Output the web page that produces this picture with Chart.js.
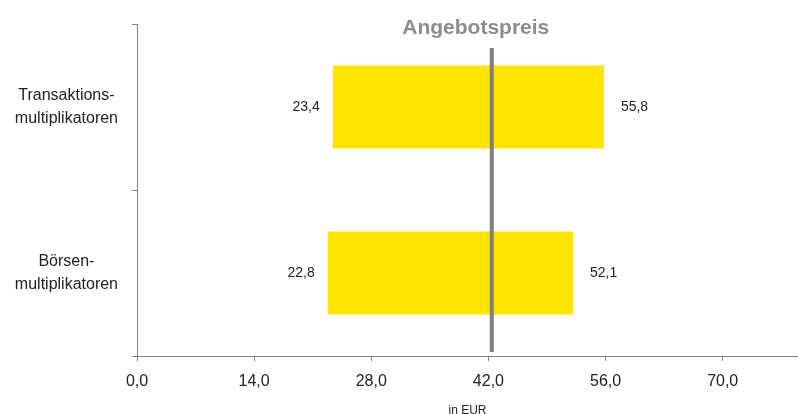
<!DOCTYPE html>
<html>
<head>
<meta charset="utf-8">
<script src="https://cdn.jsdelivr.net/npm/chart.js@4/dist/chart.umd.min.js"></script>
<style>
  html, body { margin:0; padding:0; background:#fff; }
  #wrap { width:798px; height:414px; position:relative; }
</style>
</head>
<body>
<div id="wrap"><canvas id="c"></canvas></div>
<script>
/* Bewertungsbandbreiten vs. Angebotspreis */
const categories = [['Transaktions-', 'multiplikatoren'], ['Börsen-', 'multiplikatoren']];
const lowValues  = [23.4, 22.8];
const highValues = [55.8, 52.1];
const offerPrice = 42.4;
const offerLabel = 'Angebotspreis';
const xTicks     = [0, 14, 28, 42, 56, 70];
const unitLabel  = 'in EUR';

const FONT = '"Liberation Sans", Arial, sans-serif';
const fmt = v => v.toFixed(1).replace('.', ',');

/* Linie + Titel für den Angebotspreis, Werte an den Balkenenden */
const overlay = {
  id: 'overlay',
  afterDatasetsDraw(chart){
    const { ctx, scales:{ x }, chartArea } = chart;
    const px = x.getPixelForValue(offerPrice);
    ctx.save();
    ctx.strokeStyle = '#808080';
    ctx.lineWidth = 4;
    ctx.beginPath();
    ctx.moveTo(px, chartArea.top + 24);
    ctx.lineTo(px, chartArea.bottom - 4);
    ctx.stroke();

    ctx.fillStyle = '#8c8c8c';
    ctx.font = 'bold 21px ' + FONT;
    ctx.textAlign = 'center';
    ctx.textBaseline = 'middle';
    ctx.fillText(offerLabel, px - 16, chartArea.top + 4);

    ctx.fillStyle = '#222';
    ctx.font = '14px ' + FONT;
    chart.getDatasetMeta(0).data.forEach((bar, i) => {
      const y = bar.y;
      ctx.textAlign = 'right';
      ctx.fillText(fmt(lowValues[i]), x.getPixelForValue(lowValues[i]) - 13, y);
      ctx.textAlign = 'left';
      ctx.fillText(fmt(highValues[i]), x.getPixelForValue(highValues[i]) + 17, y);
    });
    ctx.restore();
  }
};

new Chart(document.getElementById('c'), {
  type: 'bar',
  data: {
    labels: categories,
    datasets: [{
      data: lowValues.map((lo, i) => [lo, highValues[i]]),
      backgroundColor: '#FFE400',
      borderWidth: 0,
      barPercentage: 0.5,
      categoryPercentage: 1
    }]
  },
  options: {
    indexAxis: 'y',
    responsive: true,
    maintainAspectRatio: false,
    animation: false,
    layout: { padding: { top: 24, right: 0, left: 0, bottom: 0 } },
    plugins: { legend: { display: false }, tooltip: { enabled: false } },
    scales: {
      x: {
        min: 0, max: 79,
        afterBuildTicks: s => { s.ticks = xTicks.map(v => ({ value: v })); },
        afterFit: s => { s.height = 58; },
        grid: { drawOnChartArea: false, tickLength: 5, color: '#808080' },
        border: { color: '#808080', width: 1 },
        ticks: { color: '#222', font: { size: 16, family: FONT }, padding: 11,
                 callback: v => fmt(v) },
        title: { display: true, text: unitLabel, color: '#222',
                 font: { size: 12, family: FONT, lineHeight: 1 }, padding: { top: 0, bottom: -3 } }
      },
      y: {
        afterFit: s => { s.width = 137; s.paddingTop = 0; s.paddingBottom = 0; },
        grid: { drawOnChartArea: false, tickLength: 5, color: '#808080', offset: true },
        border: { color: '#808080', width: 1 },
        ticks: { color: '#222', font: { size: 16, family: FONT, lineHeight: 1.4 },
                 crossAlign: 'center', padding: 14 }
      }
    }
  },
  plugins: [overlay]
});
</script>
</body>
</html>
